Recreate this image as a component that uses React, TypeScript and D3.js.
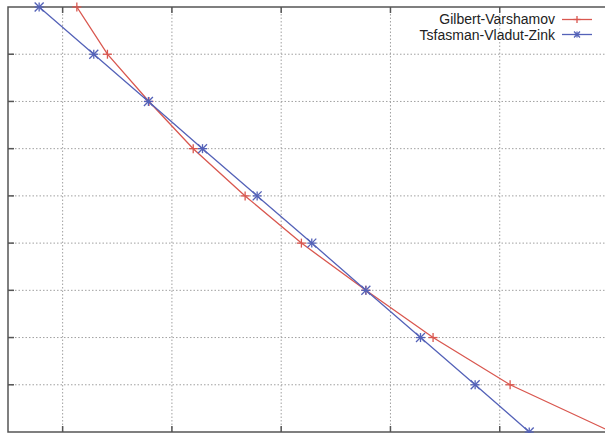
import React from 'react';
import * as d3 from 'd3';

const width = 605;
const height = 433;
const plot = {left: 8, top: 7, right: 609, bottom: 432};
const red = '#d9574f';
const blue = '#5462b8';
const gridColor = '#a0a0a0';
const axisColor = '#555';

// y levels shared by both curves (top to bottom)
const yLevels = [9, 8, 7, 6, 5, 4, 3, 2, 1, 0];
// Gilbert-Varshamov x values at each level
const gvX = [2.26, 2.82, 3.58, 4.39, 5.34, 6.37, 7.55, 8.78, 10.19, 12.05];
// Tsfasman-Vladut-Zink x values at each level
const tvzX = [1.57, 2.57, 3.57, 4.56, 5.56, 6.56, 7.55, 8.55, 9.55, 10.54];

const xTicks = [2, 4, 6, 8, 10];
const yTicks = [1, 2, 3, 4, 5, 6, 7, 8];
const seriesNames = ['Gilbert-Varshamov', 'Tsfasman-Vladut-Zink'];

const xScale = d3.scaleLinear().domain([1, 12]).range([plot.left, plot.right]);
const yScale = d3.scaleLinear().domain([0, 9]).range([plot.bottom, plot.top]);

const line = d3.line<[number, number]>()
  .x(d => xScale(d[0]))
  .y(d => yScale(d[1]));

const gvPts: [number, number][] = gvX.map((x, i) => [x, yLevels[i]]);
const tvzPts: [number, number][] = tvzX.map((x, i) => [x, yLevels[i]]);

function Plus({x, y, color, s = 4.5}: {x: number, y: number, color: string, s?: number}) {
  return (
    <g stroke={color} strokeWidth={1.3}>
      <line x1={x - s} x2={x + s} y1={y} y2={y} />
      <line x1={x} x2={x} y1={y - s} y2={y + s} />
    </g>
  );
}

function Star({x, y, color, s = 4.5}: {x: number, y: number, color: string, s?: number}) {
  return (
    <g stroke={color} strokeWidth={1.3}>
      <line x1={x - s} x2={x + s} y1={y} y2={y} />
      <line x1={x} x2={x} y1={y - s} y2={y + s} />
      <line x1={x - s} x2={x + s} y1={y - s} y2={y + s} />
      <line x1={x - s} x2={x + s} y1={y + s} y2={y - s} />
    </g>
  );
}

export default function App() {
  return (
    <svg width={width} height={height} style={{position: 'absolute', left: 0, top: 0, background: '#fff'}}
      fontFamily="'Liberation Sans', Arial, sans-serif">
      <defs>
        <clipPath id="plotclip">
          <rect x={plot.left} y={plot.top} width={plot.right - plot.left} height={plot.bottom - plot.top} />
        </clipPath>
      </defs>
      <rect width={width} height={height} fill="#fff" />

      {/* grid */}
      <g stroke={gridColor} strokeWidth={1} strokeDasharray="1.5,2">
        {xTicks.map(t => (
          <line key={'gx' + t} x1={xScale(t)} x2={xScale(t)} y1={plot.top} y2={plot.bottom} />
        ))}
        {yTicks.map(t => (
          <line key={'gy' + t} x1={plot.left} x2={plot.right} y1={yScale(t)} y2={yScale(t)} />
        ))}
      </g>

      {/* border + ticks */}
      <g stroke={axisColor} strokeWidth={1.5} fill="none">
        <rect x={plot.left} y={plot.top} width={plot.right - plot.left} height={plot.bottom - plot.top} />
        {yTicks.map(t => (
          <line key={'ty' + t} x1={plot.left} x2={plot.left + 6} y1={yScale(t)} y2={yScale(t)} />
        ))}
        {xTicks.map(t => (
          <g key={'tx' + t}>
            <line x1={xScale(t)} x2={xScale(t)} y1={plot.top} y2={plot.top + 6} />
            <line x1={xScale(t)} x2={xScale(t)} y1={plot.bottom} y2={plot.bottom - 6} />
          </g>
        ))}
      </g>

      {/* curves */}
      <g clipPath="url(#plotclip)" fill="none" strokeWidth={1.3}>
        <path d={line(gvPts) || ''} stroke={red} />
        <path d={line(tvzPts) || ''} stroke={blue} />
      </g>
      {gvPts.map((d, i) => (
        <Plus key={'gv' + i} x={xScale(d[0])} y={yScale(d[1])} color={red} />
      ))}
      {tvzPts.map((d, i) => (
        <Star key={'tz' + i} x={xScale(d[0])} y={yScale(d[1])} color={blue} />
      ))}

      {/* legend */}
      <g fontSize={14} fill="#222" textAnchor="end">
        <text x={555} y={24}>{seriesNames[0]}</text>
        <text x={555} y={39.5}>{seriesNames[1]}</text>
      </g>
      <line x1={562} x2={592} y1={19.5} y2={19.5} stroke={red} strokeWidth={1.3} />
      <Plus x={577} y={19.5} color={red} s={3.5} />
      <line x1={562} x2={592} y1={34.5} y2={34.5} stroke={blue} strokeWidth={1.3} />
      <Star x={577} y={34.5} color={blue} s={3} />
    </svg>
  );
}
